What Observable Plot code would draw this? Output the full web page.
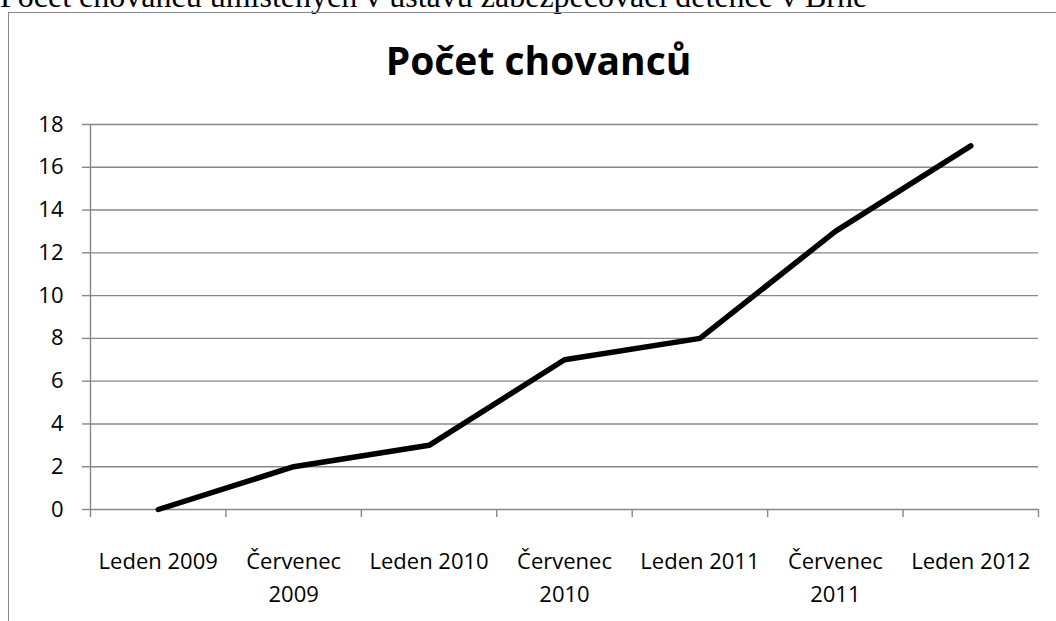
<!DOCTYPE html>
<html>
<head>
<meta charset="utf-8">
<script src="https://cdn.jsdelivr.net/npm/d3@7"></script>
<script src="https://cdn.jsdelivr.net/npm/@observablehq/plot@0.6"></script>
<style>
  html, body { margin: 0; padding: 0; background: #fff; }
  #wrap { position: relative; width: 1056px; height: 621px; overflow: hidden; background: #fff; }
  #caption { position: absolute; left: 0px; top: -20px; font-family: "Liberation Serif", "Times New Roman", serif; font-size: 32px; line-height: 32px; white-space: nowrap; color: #000; }
  #frame { position: absolute; left: 8px; top: 12px; width: 1200px; height: 800px; border: 1.5px solid #8a8a8a; box-sizing: border-box; }
  #title { position: absolute; left: 0; width: 1077px; top: 40px; text-align: center; font-family: "Open Sans", sans-serif; font-weight: bold; font-size: 39px; line-height: 39px; color: #000; white-space: nowrap; }
  #chart { position: absolute; left: 0; top: 0; }
</style>
</head>
<body>
<div id="wrap">
  <div id="caption">Počet chovanců umístěných v ústavu zabezpečovací detence v Brně</div>
  <div id="frame"></div>
  <div id="title">Počet chovanců</div>
  <div id="chart"></div>
</div>
<script>
const categories = ["Leden 2009", "Červenec\n2009", "Leden 2010", "Červenec\n2010", "Leden 2011", "Červenec\n2011", "Leden 2012"];
const values = [0, 2, 3, 7, 8, 13, 17];
const yTicks = [0, 2, 4, 6, 8, 10, 12, 14, 16, 18];
const xBoundaries = [-0.5, 0.5, 1.5, 2.5, 3.5, 4.5, 5.5, 6.5];

const data = categories.map((c, i) => ({i, label: c, value: values[i]}));
const grid = "#878787";

const chart = Plot.plot({
  width: 1056,
  height: 621,
  marginLeft: 90,
  marginRight: 18,
  marginTop: 124,
  marginBottom: 112,
  style: {fontFamily: "Open Sans, sans-serif", fontSize: "22px", color: "#000", background: "transparent", overflow: "visible"},
  x: {type: "linear", domain: [-0.5, 6.5]},
  y: {type: "linear", domain: [0, 18]},
  marks: [
    Plot.ruleY(yTicks, {stroke: grid, strokeWidth: 1.4}),
    Plot.ruleX([xBoundaries[0]], {y1: 0, y2: 18, stroke: grid, strokeWidth: 1.4}),
    Plot.axisY({ticks: yTicks, tickSize: 8, tickPadding: 19, stroke: grid, strokeWidth: 1.4, fill: "#000", fontSize: 22, label: null}),
    Plot.axisX({ticks: xBoundaries, tickSize: 8, tickFormat: () => "", stroke: grid, strokeWidth: 1.4, label: null}),
    Plot.text(data, {x: "i", y: 0, text: "label", dy: 36, lineAnchor: "top", lineHeight: 1.5, fontSize: 22, fill: "#000"}),
    Plot.line(data, {x: "i", y: "value", stroke: "#000", strokeWidth: 5.5, strokeLinecap: "round", strokeLinejoin: "round"})
  ]
});
document.getElementById("chart").appendChild(chart);
</script>
</body>
</html>
